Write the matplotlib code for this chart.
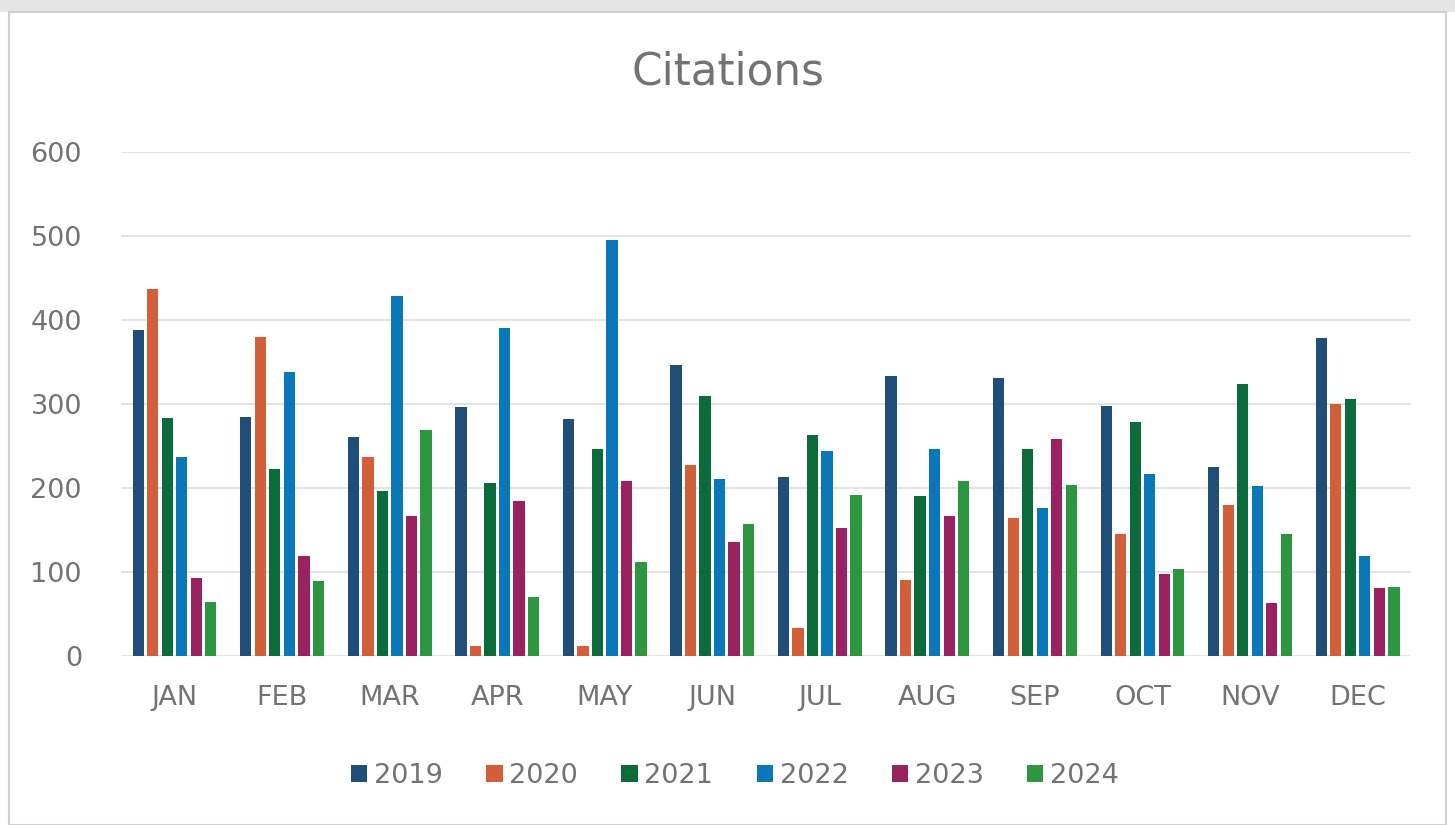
import matplotlib
matplotlib.use("Agg")
import matplotlib.pyplot as plt
from matplotlib.patches import Rectangle
import numpy as np

months = ["JAN", "FEB", "MAR", "APR", "MAY", "JUN", "JUL", "AUG", "SEP", "OCT", "NOV", "DEC"]
years = ["2019", "2020", "2021", "2022", "2023", "2024"]
v2019 = [388, 285, 261, 296, 282, 347, 213, 333, 331, 298, 225, 379]
v2020 = [437, 380, 237, 12, 12, 227, 33, 91, 164, 145, 180, 300]
v2021 = [283, 223, 196, 206, 246, 310, 263, 190, 247, 278, 324, 306]
v2022 = [237, 338, 428, 390, 495, 211, 244, 246, 176, 217, 202, 119]
v2023 = [93, 119, 167, 185, 208, 136, 152, 167, 258, 98, 63, 81]
v2024 = [64, 89, 269, 70, 112, 157, 192, 208, 204, 104, 145, 82]
series = [v2019, v2020, v2021, v2022, v2023, v2024]
colors = ["#1F4E79", "#D35F3A", "#0B6B3A", "#0A77B8", "#9B2260", "#2E9641"]

text_color = "#737373"
plt.rcParams['font.family'] = ['DejaVu Sans']
fig = plt.figure(figsize=(14.55, 8.25), dpi=100)
fig.patch.set_facecolor("white")

# card border and top strip
fig.add_artist(Rectangle((0.0, 0.985), 1.0, 0.015, transform=fig.transFigure,
                         facecolor="#e6e6e6", edgecolor="none", zorder=-2))
fig.add_artist(Rectangle((0.006, 0.0), 0.988, 0.985, transform=fig.transFigure,
                         facecolor="none", edgecolor="#d0d0d0", linewidth=1.5, zorder=-1))

ax = fig.add_axes([0.083, 0.2048, 0.887, 0.611])
ax.patch.set_alpha(0)
x = np.arange(len(months))
slot = 0.135
width = 0.105
for i, (vals, col, yr) in enumerate(zip(series, colors, years)):
    ax.bar(x + (i - 2.5) * slot, vals, width=width, color=col, label=yr, zorder=3)

ax.set_xlim(-0.5, 11.5)
ax.set_ylim(0, 600)
ax.set_yticks(range(0, 601, 100))
ax.yaxis.grid(True, color="#dedede", linewidth=1.2, zorder=0)
ax.set_axisbelow(True)
for s in ax.spines.values():
    s.set_visible(False)
ax.set_xticks(x)
ax.set_xticklabels(months)
ax.tick_params(axis='both', length=0, labelsize=19.5, labelcolor=text_color)
ax.tick_params(axis='x', pad=21)
ax.tick_params(axis='y', pad=28)

fig.text(0.5, 0.913, "Citations", ha="center", va="center", fontsize=31.5, color=text_color)

leg = ax.legend(loc="center", bbox_to_anchor=(0.476, -0.238), ncol=6, frameon=False,
                fontsize=19.5, handlelength=0.6, handleheight=0.6, handletextpad=0.25,
                columnspacing=1.6)
for t in leg.get_texts():
    t.set_color(text_color)

fig.savefig("out.png", dpi=100, facecolor="white")
